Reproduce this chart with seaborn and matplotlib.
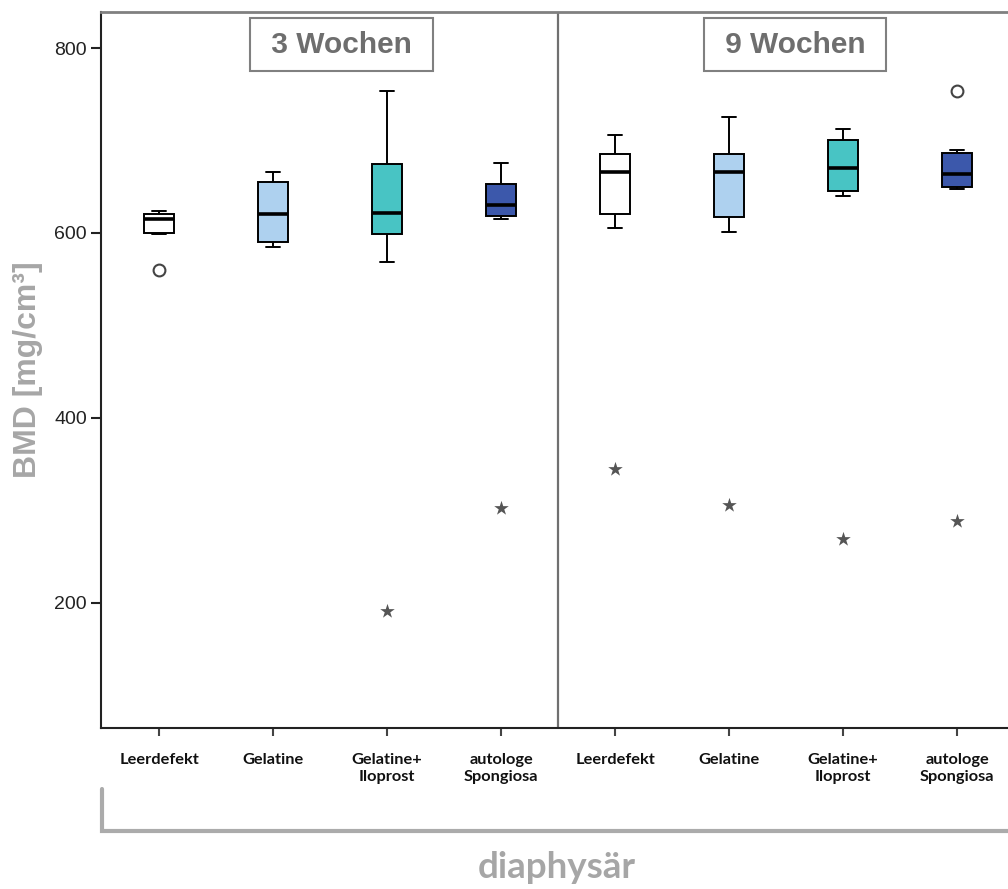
import numpy as np
import pandas as pd
import seaborn as sns
import matplotlib.pyplot as plt
from matplotlib.lines import Line2D

# Data (BMD in mg/cm3)
groups = ["Leerdefekt", "Gelatine", "Gelatine+\nIloprost", "autologe\nSpongiosa"]
weeks = ["3 Wochen", "9 Wochen"]
box_colors = ["#FFFFFF", "#AED1EF", "#48C4C4", "#3C58AB"]

# five-number summaries per box: whisker low, Q1, median, Q3, whisker high
w3_lo = [599, 585, 568, 615]
w3_q1 = [600, 590, 599, 618]
w3_med = [615, 620, 622, 630]
w3_q3 = [621, 655, 675, 653]
w3_hi = [624, 666, 753, 676]

w9_lo = [605, 601, 640, 648]
w9_q1 = [621, 617, 645, 650]
w9_med = [666, 666, 670, 664]
w9_q3 = [685, 685, 701, 687]
w9_hi = [706, 725, 712, 690]

# outliers (circles) and extremes (stars): (week index, group index, value)
circle_week = [0, 1]
circle_group = [0, 3]
circle_val = [560, 754]
star_week = [0, 0, 1, 1, 1, 1]
star_group = [2, 3, 0, 1, 2, 3]
star_val = [191, 302, 345, 306, 269, 288]

y_ticks = [200, 400, 600, 800]

# build long-form table
keys = [f"{w}|{g}" for w in weeks for g in groups]
rows = []
for wi, summ in enumerate([(w3_lo, w3_q1, w3_med, w3_q3, w3_hi),
                           (w9_lo, w9_q1, w9_med, w9_q3, w9_hi)]):
    for gi in range(len(groups)):
        for v in (s[gi] for s in summ):
            rows.append({"key": keys[wi * 4 + gi], "value": v})
df = pd.DataFrame(rows)
circ = pd.DataFrame({"key": [keys[w * 4 + g] for w, g in zip(circle_week, circle_group)],
                     "value": circle_val})
stars = pd.DataFrame({"key": [keys[w * 4 + g] for w, g in zip(star_week, star_group)],
                      "value": star_val})
palette = dict(zip(keys, box_colors * 2))

sns.set_style("ticks")
plt.rcParams['font.family'] = ['Liberation Sans', 'DejaVu Sans']

fig = plt.figure(figsize=(10.08, 8.89), dpi=100)
ax = fig.add_axes([101 / 1008, 1 - 728 / 889, 907 / 1008, 716 / 889])

sns.boxplot(data=df, x="key", y="value", hue="key", order=keys, hue_order=keys,
            palette=palette, saturation=1, width=0.26, whis=(0, 100),
            showfliers=False, linecolor="black", linewidth=1.4, legend=False,
            medianprops=dict(linewidth=2.6, color="black"), ax=ax)
sns.stripplot(data=circ, x="key", y="value", order=keys, jitter=False, marker="o",
              size=8.5, color="white", edgecolor="#444444", linewidth=1.5, ax=ax)
sns.stripplot(data=stars, x="key", y="value", order=keys, jitter=False, marker="*",
              size=11, color="#555555", linewidth=0, ax=ax)

ax.set_xlim(-0.509, 7.447)
ax.set_ylim(64.4, 839)
ax.axvline(3.5, color="#707070", lw=1.6, zorder=1)

ax.set_yticks(y_ticks)
ax.set_yticklabels([str(t) for t in y_ticks], fontsize=14, color="#222222")
ax.set_xticks(range(len(keys)))
ax.set_xticklabels(groups * 2, fontsize=11.8, fontweight="bold", family="Lato",
                   color="#111111", linespacing=1.3)
ax.tick_params(axis="y", length=7, width=1.5, color="#222222", pad=3)
ax.tick_params(axis="x", length=6, width=1.5, color="#444444", pad=12)
ax.set_xlabel("")
ax.set_ylabel("BMD [mg/cm³]", fontsize=23, fontweight="bold", color="#A6A6A6", va="center")
ax.yaxis.set_label_coords(-0.0805, 0.5)

for side in ["left", "bottom"]:
    ax.spines[side].set_color("#222222")
    ax.spines[side].set_linewidth(1.5)
ax.spines["top"].set_color("#808080")
ax.spines["top"].set_linewidth(2)
ax.spines["right"].set_visible(False)

# panel titles
for xpos, txt in zip([1.6, 5.58], weeks):
    ax.text(xpos, 0.954, f" {txt} ", transform=ax.get_xaxis_transform(),
            ha="center", va="center", fontsize=21.5, fontweight="bold", color="#6E6E6E",
            bbox=dict(boxstyle="square,pad=0.42", fc="white", ec="#808080", lw=1.5))

# bracket and region label below
fig.add_artist(Line2D([102 / 1008, 102 / 1008, 1.0],
                      [1 - 789 / 889, 1 - 831 / 889, 1 - 831 / 889],
                      color="#ABABAB", lw=3, solid_joinstyle="miter"))
fig.text(557 / 1008, 1 - 868 / 889, "diaphysär", ha="center", va="center",
         fontsize=26.5, fontweight="bold", family="Lato", color="#A6A6A6")

fig.savefig("out.png", dpi=100)
